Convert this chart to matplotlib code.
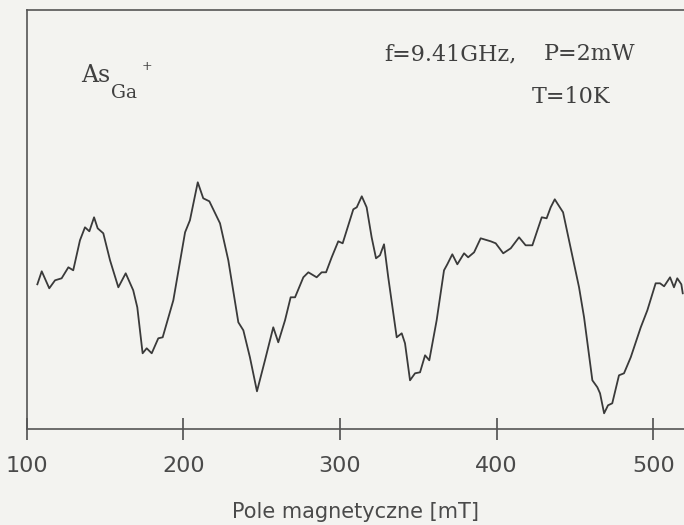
import matplotlib
matplotlib.use("Agg")
import matplotlib.pyplot as plt

# Magnetic field [mT] and EPR signal (arbitrary units)
field_mT = [106.8, 109.6, 114.4, 118.1, 122.3, 126.6, 129.7, 134.0, 137.2, 140.0,
            143.0, 145.3, 148.9, 153.2, 158.5, 163.2, 168.0, 170.6, 174.0, 176.6,
            179.8, 184.0, 186.8, 193.6, 201.1, 204.2, 209.2, 212.7, 216.6, 223.4,
            228.7, 235.1, 238.3, 242.5, 247.0, 252.1, 257.4, 260.6, 264.9, 268.5,
            271.3, 276.6, 279.8, 285.1, 288.3, 291.1, 294.7, 298.9, 301.7, 304.3,
            308.5, 310.7, 313.9, 317.0, 320.2, 323.0, 325.5, 328.1, 330.8, 336.2,
            339.4, 341.5, 344.7, 347.9, 351.1, 354.3, 357.0, 361.7, 366.4, 368.5,
            371.7, 374.9, 379.2, 381.8, 385.6, 389.8, 396.2, 399.4, 404.2, 409.0,
            414.3, 418.5, 422.8, 426.0, 428.8, 431.9, 434.5, 437.1, 438.7, 442.4,
            446.2, 452.6, 455.8, 461.1, 464.3, 466.0, 468.6, 471.1, 473.8, 478.1,
            481.3, 485.6, 492.0, 496.2, 501.5, 504.3, 506.9, 510.7, 513.2, 515.3,
            517.9, 518.8]
signal = [145, 158, 141, 149, 151, 162, 159, 189, 202, 198,
          212, 201, 196, 169, 142, 156, 139, 122, 76, 81,
          76, 91, 92, 129, 197, 209, 247, 231, 228, 206,
          169, 107, 99, 72, 38, 69, 102, 87, 109, 132,
          132, 152, 157, 152, 157, 157, 172, 188, 186, 199,
          220, 222, 233, 222, 192, 171, 174, 185, 152, 92,
          96, 86, 49, 56, 57, 74, 69, 109, 159, 165,
          175, 165, 176, 172, 177, 191, 188, 186, 176, 181,
          192, 184, 184, 199, 212, 211, 222, 230, 226, 217,
          189, 142, 112, 49, 42, 36, 16, 24, 26, 54,
          56, 72, 102, 119, 146, 146, 143, 152, 142, 151,
          145, 136]

xticks = [100, 200, 300, 400, 500]
xlabel = "Pole magnetyczne [mT]"
note_f = "f=9.41GHz,"
note_p = "P=2mW"
note_t = "T=10K"

W, H = 684, 525
bg = "#f3f3f0"
ink = "#404040"

fig = plt.figure(figsize=(W / 100, H / 100), dpi=100, facecolor=bg)
ax = fig.add_axes([26.7 / W, (H - 429.3) / H, (W - 26.7) / W, (429.3 - 10) / H])
ax.set_facecolor(bg)

ax.plot(field_mT, signal, color="#3a3a3a", lw=1.3)

ax.set_xlim(100, 519.6)
ax.set_ylim(0, 419.3)
ax.set_xticks(xticks)
ax.set_xticklabels([str(t) for t in xticks])
ax.set_yticks([])
ax.tick_params(axis="x", direction="inout", length=16.5, width=1.1, color=ink,
               labelsize=16, labelcolor="#4a4a4a", pad=11)
for s in ["left", "top", "bottom"]:
    ax.spines[s].set_color("#555555")
    ax.spines[s].set_linewidth(1.2)
ax.spines["right"].set_visible(False)

ax.set_xlabel(xlabel, fontsize=15, color="#4a4a4a", labelpad=19)

# annotations (serif, plotter-like)
def px(x, y):
    return x / W, 1 - y / H

serif = dict(family="DejaVu Serif", color=ink, ha="left", va="baseline")
fig.text(*px(384, 60), note_f, fontsize=16, **serif)
fig.text(*px(544, 60), note_p, fontsize=16, **serif)
fig.text(*px(532, 103), note_t, fontsize=16, **serif)
fig.text(*px(81, 82), "As", fontsize=17, **serif)
fig.text(*px(111, 98), "Ga", fontsize=13.5, **serif)
fig.text(*px(142, 70), "+", fontsize=9, **serif)

fig.savefig("out.png", dpi=100, facecolor=bg)
